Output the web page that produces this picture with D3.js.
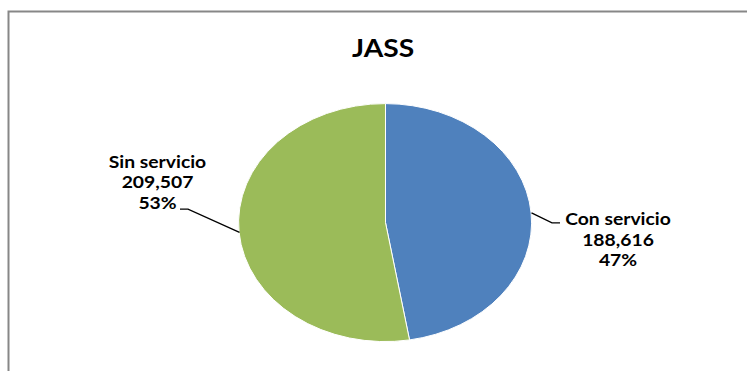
<!DOCTYPE html>
<html>
<head>
<meta charset="utf-8">
<script src="https://cdn.jsdelivr.net/npm/d3@7"></script>
<style>
  html, body { margin: 0; padding: 0; background: #fff; }
  svg { display: block; }
  text { font-family: Lato, "Open Sans", sans-serif; font-weight: bold; fill: #000; }
</style>
</head>
<body>
<svg id="chart" width="747" height="371"></svg>
<script>
// Pie data
const categories = ["Con servicio", "Sin servicio"];
const values = [188616, 209507];
const colors = ["#4F81BD", "#9BBB59"];
const title = "JASS";

const svg = d3.select("#chart");
const W = 747, H = 371;

// Chart frame (top and left edges visible)
svg.append("path")
  .attr("d", `M8.5,${H} L8.5,11.5 L${W},11.5`)
  .attr("fill", "none")
  .attr("stroke", "#878787")
  .attr("stroke-width", 2);

// Title
const sx = 1.15; // horizontal stretch of the drawing
svg.append("text")
  .attr("transform", `translate(383,57) scale(${sx},1)`)
  .attr("text-anchor", "middle")
  .style("font-size", "24.5px")
  .text(title);

// Pie geometry (elliptical)
const cx = 385.5, cy = 222.6, rx = 146.5, ry = 119;
const total = d3.sum(values);
const data = categories.map((c, i) => ({ name: c, value: values[i], color: colors[i] }));

const pie = d3.pie().sort(null).value(d => d.value).startAngle(0).endAngle(2 * Math.PI);
const arcs = pie(data);
const arc = d3.arc().innerRadius(0).outerRadius(1);

const g = svg.append("g").attr("transform", `translate(${cx},${cy}) scale(${rx},${ry})`);
g.selectAll("path")
  .data(arcs)
  .join("path")
  .attr("d", arc)
  .attr("fill", d => d.data.color)
  .attr("stroke", "#fff")
  .attr("stroke-width", 1)
  .attr("vector-effect", "non-scaling-stroke");

const fmtNum = d3.format(",");
const fmtPct = d3.format(".0%");

// Label layout: leader offsets per slice
const layout = [
  { elbow: [20.5, 10], end: [8, 0], anchor: [58, 2] },
  { elbow: [-51.5, -23.3], end: [-8, 0], anchor: [-22.5, -41.5] }
];

arcs.forEach((a, i) => {
  const mid = (a.startAngle + a.endAngle) / 2;
  const px = cx + rx * Math.sin(mid);
  const py = cy - ry * Math.cos(mid);
  const L = layout[i];
  const ex = px + L.elbow[0], ey = py + L.elbow[1];
  const fx = ex + L.end[0], fy = ey + L.end[1];
  svg.append("path")
    .attr("d", `M${px},${py} L${ex},${ey} L${fx},${fy}`)
    .attr("fill", "none")
    .attr("stroke", "#000")
    .attr("stroke-width", 1.3);

  const lx = fx + L.anchor[0], ly = fy + L.anchor[1];
  const lines = [a.data.name, fmtNum(a.data.value), fmtPct(a.data.value / total)];
  lines.forEach((t, k) => {
    svg.append("text")
      .attr("transform", `translate(${lx},${ly + k * 20.8}) scale(${sx},1)`)
      .attr("text-anchor", "middle")
      .style("font-size", "16.8px")
      .text(t);
  });
});
</script>
</body>
</html>
